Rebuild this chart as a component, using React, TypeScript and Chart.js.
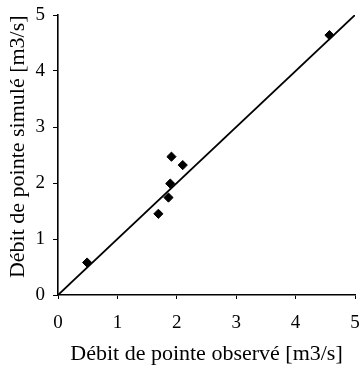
import React, { useEffect, useRef } from "react";
import { Chart, registerables } from "chart.js";

Chart.register(...registerables);

const observed = [0.49, 1.69, 1.86, 1.89, 1.91, 2.1, 4.57];
const simulated = [0.58, 1.45, 1.74, 1.99, 2.47, 2.32, 4.64];
const lineX = [0, 5];
const lineY = [0, 5];
const xTitle = "Débit de pointe observé [m3/s]";
const yTitle = "   Débit de pointe simulé [m3/s]";

export default function App() {
  const ref = useRef<HTMLCanvasElement | null>(null);
  useEffect(() => {
    if (!ref.current) return;
    const family = "'Liberation Serif', 'DejaVu Serif', serif";
    const tickFont = { family, size: 19 };
    const titleFont = { family, size: 22 };
    const chart = new Chart(ref.current, {
      type: "scatter",
      data: {
        datasets: [
          {
            type: "line",
            data: lineX.map((x, i) => ({ x, y: lineY[i] })),
            borderColor: "#000",
            borderWidth: 1.8,
            pointRadius: 0,
            fill: false,
          },
          {
            type: "scatter",
            data: observed.map((x, i) => ({ x, y: simulated[i] })),
            backgroundColor: "#000",
            borderColor: "#000",
            pointStyle: "rectRot",
            pointRadius: 4.6,
          },
        ],
      },
      options: {
        animation: false,
        responsive: false,
        layout: { padding: { top: 15, right: 7, left: 0, bottom: 0 } },
        plugins: { legend: { display: false }, tooltip: { enabled: false } },
        scales: {
          x: {
            type: "linear",
            min: 0,
            max: 5,
            ticks: { stepSize: 1, color: "#000", font: tickFont, padding: 13 },
            grid: { drawOnChartArea: false, drawTicks: true, tickLength: 4, color: "#000" },
            border: { display: true, color: "#000", width: 1.6 },
            title: { display: true, text: xTitle, color: "#000", font: titleFont, padding: { top: 0, bottom: 1 } },
            afterFit: (s: any) => { s.height = 73; s.paddingRight = 7; s.paddingLeft = 0; },
          },
          y: {
            type: "linear",
            min: 0,
            max: 5,
            ticks: { stepSize: 1, color: "#000", font: tickFont, padding: 8 },
            grid: { drawOnChartArea: false, drawTicks: true, tickLength: 5, color: "#000" },
            border: { display: true, color: "#000", width: 1.6 },
            title: { display: true, text: yTitle, color: "#000", font: titleFont, padding: { top: 5, bottom: 0 } },
            afterFit: (s: any) => { s.width = 58; s.paddingTop = 15; s.paddingBottom = 0; },
          },
        },
      },
    });
    return () => chart.destroy();
  }, []);
  return (
    <div style={{ position: "fixed", left: 0, top: 0, width: 362, height: 368, background: "#fff" }}>
      <canvas ref={ref} width={362} height={368} />
    </div>
  );
}
